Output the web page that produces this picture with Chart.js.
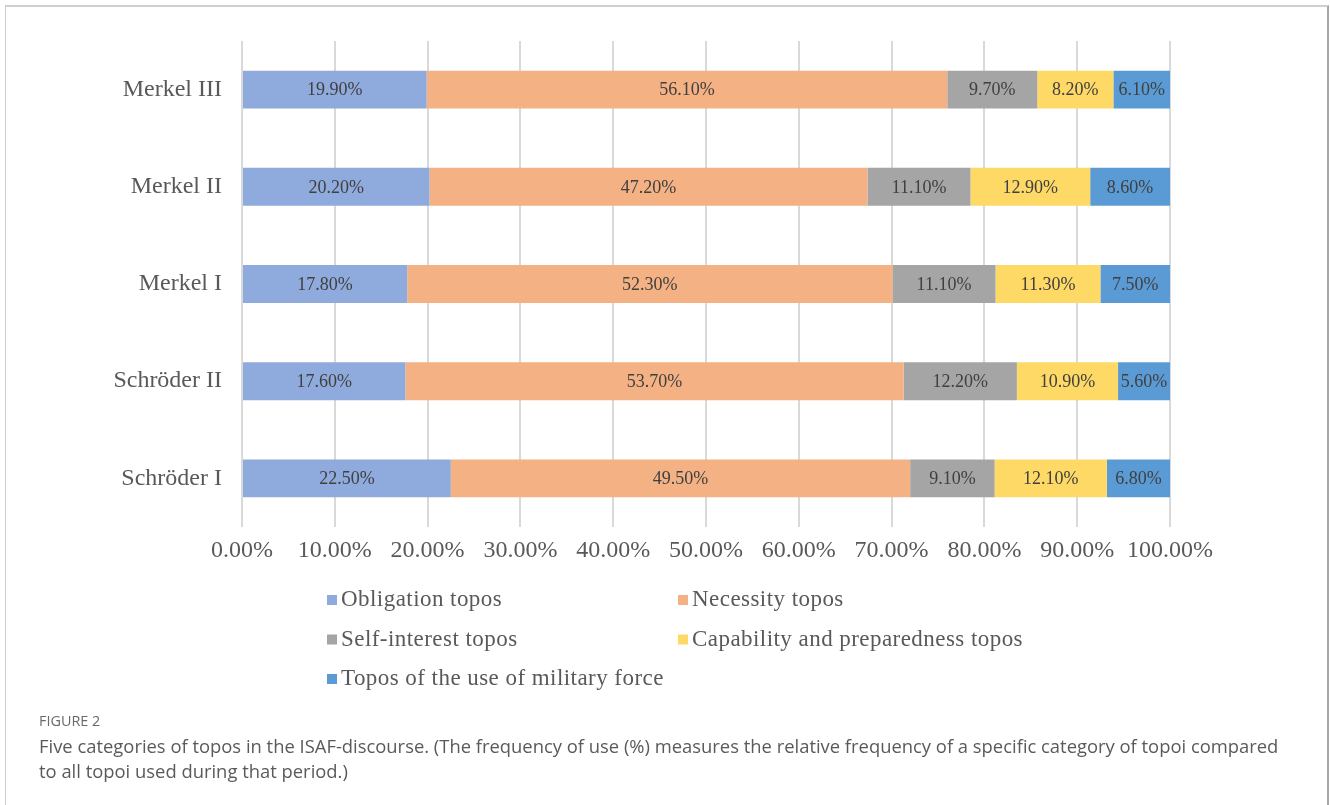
<!DOCTYPE html>
<html>
<head>
<meta charset="utf-8">
<script src="https://cdn.jsdelivr.net/npm/chart.js@4/dist/chart.umd.min.js"></script>
<style>
  html, body { margin: 0; padding: 0; background: #fff; }
  #wrap { position: relative; width: 1330px; height: 805px; overflow: hidden; background: #fff; }
  #frame {
    position: absolute; left: 5px; top: 5px; width: 1321px; height: 830px;
    border-top: 2px solid #cfcfcf; border-left: 1px solid #cfcfcf; border-right: 2px solid #a8a8a8;
  }
  canvas { position: absolute; left: 0; top: 0; }
  .cap { position: absolute; left: 39px; font-family: "Open Sans", sans-serif; color: #5a5a5a; white-space: nowrap; }
  #figno { top: 713px; font-size: 14.4px; line-height: 16px; color: #6a6a6a; }
  #captext { top: 733px; font-size: 18.4px; line-height: 25px; }
</style>
</head>
<body>
<div id="wrap">
  <div id="frame"></div>
  <canvas id="chart" width="1330" height="805"></canvas>
  <div class="cap" id="figno">FIGURE 2</div>
  <div class="cap" id="captext">Five categories of topos in the ISAF-discourse. (The frequency of use (%) measures the relative frequency of a specific category of topoi compared<br>to all topoi used during that period.)</div>
</div>
<script>
// Government periods, top to bottom
const categories = ['Merkel III', 'Merkel II', 'Merkel I', 'Schröder II', 'Schröder I'];

// Share of each topos category per period (%)
const obligation    = [19.9, 20.2, 17.8, 17.6, 22.5];
const necessity     = [56.1, 47.2, 52.3, 53.7, 49.5];
const selfInterest  = [9.7, 11.1, 11.1, 12.2, 9.1];
const capability    = [8.2, 12.9, 11.3, 10.9, 12.1];
const militaryForce = [6.1, 8.6, 7.5, 5.6, 6.8];

const seriesNames = [
  'Obligation topos',
  'Necessity topos',
  'Self-interest topos',
  'Capability and preparedness topos',
  'Topos of the use of military force'
];
const seriesColors = ['#8FAADC', '#F4B183', '#A5A5A5', '#FFD966', '#5B9BD5'];
const seriesValues = [obligation, necessity, selfInterest, capability, militaryForce];

// x-axis ticks (%)
const xTickValues = [0, 10, 20, 30, 40, 50, 60, 70, 80, 90, 100];

const SERIF = '"Liberation Serif", "Times New Roman", serif';

// Value text centred inside every bar segment
const segmentLabels = {
  id: 'segmentLabels',
  afterDatasetsDraw(chart) {
    const ctx = chart.ctx;
    ctx.save();
    ctx.font = '18px ' + SERIF;
    ctx.fillStyle = '#404040';
    ctx.textAlign = 'center';
    ctx.textBaseline = 'middle';
    chart.data.datasets.forEach((ds, i) => {
      const meta = chart.getDatasetMeta(i);
      meta.data.forEach((bar, j) => {
        const cx = (bar.x + bar.base) / 2;
        ctx.fillText(ds.data[j].toFixed(2) + '%', cx, bar.y + 1);
      });
    });
    ctx.restore();
  }
};

// Two-column legend below the axis
const gridLegend = {
  id: 'gridLegend',
  afterDraw(chart, args, opts) {
    const ctx = chart.ctx;
    ctx.save();
    ctx.font = opts.fontSize + 'px ' + SERIF;
    if ('letterSpacing' in ctx) ctx.letterSpacing = opts.spacing;
    ctx.textBaseline = 'middle';
    ctx.textAlign = 'left';
    chart.data.datasets.forEach((ds, i) => {
      const col = i % 2, row = Math.floor(i / 2);
      const x = opts.columns[col];
      const y = opts.top + row * opts.rowGap;
      ctx.fillStyle = ds.backgroundColor;
      ctx.fillRect(x, y - opts.box / 2, opts.box, opts.box);
      ctx.fillStyle = '#595959';
      ctx.fillText(ds.label, x + opts.box + 4, y);
    });
    ctx.restore();
  }
};

new Chart(document.getElementById('chart'), {
  type: 'bar',
  data: {
    labels: categories,
    datasets: seriesNames.map((name, i) => ({
      label: name,
      data: seriesValues[i],
      backgroundColor: seriesColors[i],
      borderWidth: 0,
      barPercentage: 0.39,
      categoryPercentage: 1
    }))
  },
  options: {
    indexAxis: 'y',
    responsive: false,
    animation: false,
    devicePixelRatio: 1,
    layout: { padding: { top: 41, right: 160, left: 0, bottom: 0 } },
    plugins: {
      legend: { display: false },
      tooltip: { enabled: false },
      gridLegend: { columns: [327, 678], top: 600, rowGap: 39.5, box: 10, fontSize: 23, spacing: '0.45px' }
    },
    scales: {
      x: {
        stacked: true,
        min: 0,
        max: 100,
        afterBuildTicks: (scale) => { scale.ticks = xTickValues.map(v => ({ value: v })); },
        ticks: {
          callback: (v) => Number(v).toFixed(2) + '%',
          font: { family: SERIF, size: 24 },
          color: '#595959',
          padding: 9,
          maxRotation: 0,
          autoSkip: false
        },
        grid: { color: '#d9d9d9', lineWidth: 2, drawTicks: false },
        border: { display: false },
        afterFit: (scale) => { scale.height = 278; }
      },
      y: {
        stacked: true,
        ticks: {
          font: { family: SERIF, size: 24 },
          color: '#595959',
          padding: 20
        },
        grid: { display: false, drawTicks: false },
        border: { display: false },
        afterFit: (scale) => { scale.width = 242; }
      }
    }
  },
  plugins: [segmentLabels, gridLegend]
});
</script>
</body>
</html>
